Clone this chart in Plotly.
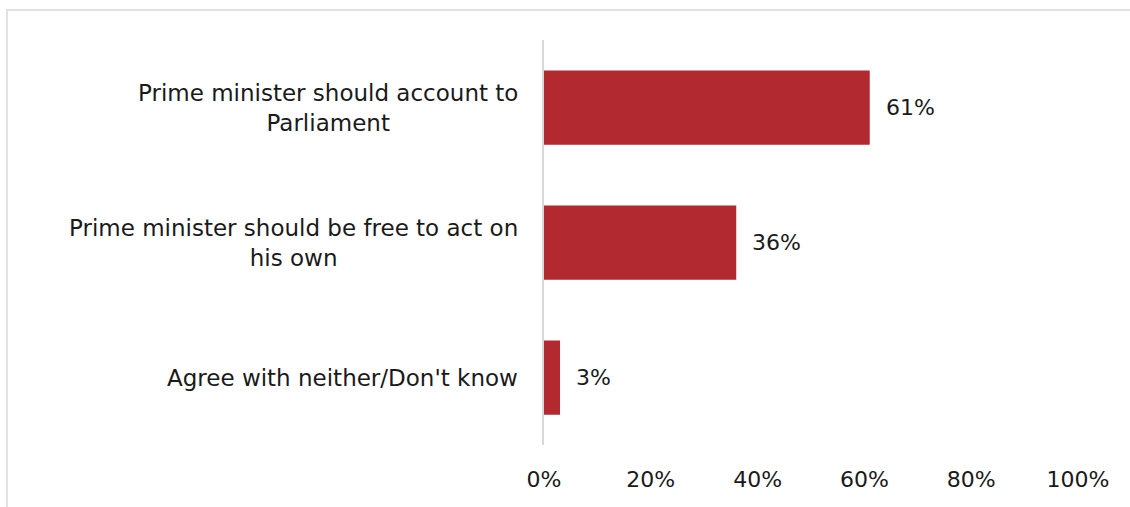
import plotly.graph_objects as go

categories = ["Prime minister should account to<br>Parliament",
              "Prime minister should be free to act on<br>his own",
              "Agree with neither/Don't know"]
values = [61, 36, 3]
labels = ["61%", "36%", "3%"]
tick_vals = [0, 20, 40, 60, 80, 100]
tick_text = ["0%", "20%", "40%", "60%", "80%", "100%"]

FONT = "Century Gothic, URW Gothic, DejaVu Sans, sans-serif"
TXT = "#1a1a1a"
W, H = 1130, 507
L, R, T, B = 544, 52, 40, 62

fig = go.Figure(go.Bar(
    x=values, y=list(range(len(categories))), orientation="h",
    marker=dict(color="#b22930", line=dict(width=0)),
    width=0.55, hoverinfo="skip",
))

anns = []
for i, (c, v, t) in enumerate(zip(categories, values, labels)):
    anns.append(dict(x=0, xref="paper", y=i, yref="y", text=c, showarrow=False,
                     xanchor="right", align="center", xshift=-24,
                     font=dict(family=FONT, size=23, color=TXT)))
    anns.append(dict(x=v, xref="x", y=i, yref="y", text=t, showarrow=False,
                     xanchor="left", xshift=14,
                     font=dict(family=FONT, size=22, color=TXT)))

pw = W - L - R
ph = H - T - B
bottom_px = H - B
fig.update_layout(
    width=W, height=H,
    margin=dict(l=L, r=R, t=T, b=B),
    paper_bgcolor="white", plot_bgcolor="white",
    showlegend=False,
    annotations=anns,
    xaxis=dict(range=[0, 100], tickvals=tick_vals, ticktext=tick_text,
               showgrid=False, zeroline=False, showline=False,
               ticklabelstandoff=19,
               tickfont=dict(family=FONT, size=22, color=TXT), fixedrange=True),
    yaxis=dict(range=[2.5, -0.5], showticklabels=False, showgrid=False,
               zeroline=False, showline=True, linecolor="#d9d9d9", linewidth=1.5,
               fixedrange=True),
    shapes=[dict(type="rect", xref="paper", yref="paper",
                 x0=(7 - L) / pw, x1=(W + 20 - L) / pw,
                 y0=(bottom_px - (H + 20)) / ph, y1=(bottom_px - 10) / ph,
                 line=dict(color="#e2e2e2", width=2), fillcolor="rgba(0,0,0,0)",
                 layer="below")],
)

fig.write_html("out.html", config={"displayModeBar": False})
